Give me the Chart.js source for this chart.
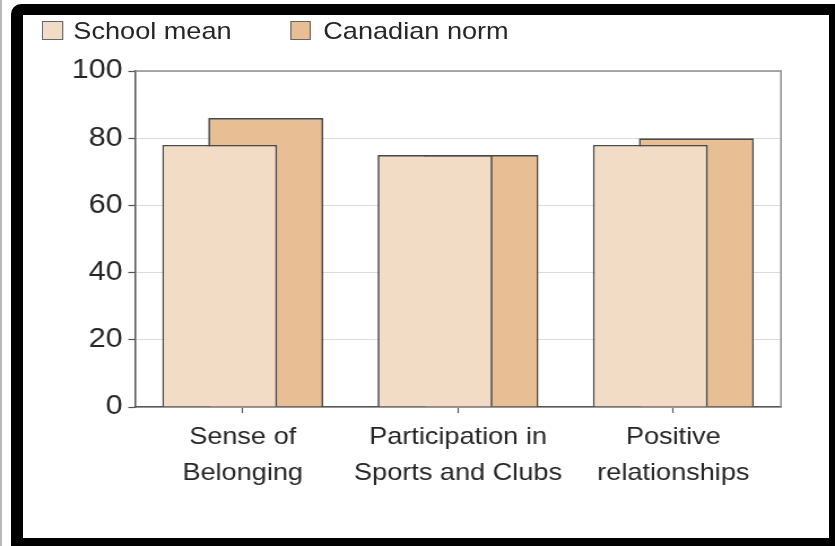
<!DOCTYPE html>
<html>
<head>
<meta charset="utf-8">
<script src="https://cdn.jsdelivr.net/npm/chart.js@4/dist/chart.umd.min.js"></script>
<style>
  html, body { margin: 0; padding: 0; background: #fff; }
  body { width: 835px; height: 546px; position: relative; overflow: hidden; }
  #edge { position: absolute; left: 0; top: 0; width: 2px; height: 546px; background: #b8b8b8; }
  #frame {
    position: absolute; left: 11px; top: 4px; width: 824px; height: 542px;
    box-sizing: border-box; border-style: solid; border-color: #000;
    border-width: 11px 6px 8px 12px; border-top-left-radius: 10px; background: #fff;
  }
  #stage {
    position: absolute; left: 0; top: 0; width: 739px; height: 546px;
    transform: scaleX(1.1299); transform-origin: 0 0;
  }
  #chart { position: absolute; left: 0; top: 0; }
  .lg-item { position: absolute; top: 18px; height: 26px;
    font-family: "Liberation Sans", Arial, sans-serif; font-size: 24px; color: #262626; white-space: nowrap; }
  .lg-box { position: absolute; top: 3px; width: 18.6px; height: 19px; box-sizing: border-box;
    border: 1.5px solid #666; }
  .lg-text { position: absolute; top: 0; line-height: 26px; }
</style>
</head>
<body>
<div id="edge"></div>
<div id="frame"></div>
<div id="stage">
  <canvas id="chart" width="739" height="546"></canvas>
  <div id="legend"></div>
</div>
<script>
// Survey results: school mean vs. Canadian norm
const categories = [['Sense of', 'Belonging'], ['Participation in', 'Sports and Clubs'], ['Positive', 'relationships']];
const schoolMean = [78, 75, 78];
const canadianNorm = [86, 75, 80];
const seriesNames = ['School mean', 'Canadian norm'];
const seriesColors = ['#f3dcc6', '#e8be94'];
const yMin = 0, yMax = 100, yStep = 20;

const FONT = '"Liberation Sans", Arial, sans-serif';
const TEXT = '#262626';

// grey frame along the top and right of the plot area
const plotFrame = {
  id: 'plotFrame',
  afterDraw(chart) {
    const { ctx, chartArea: a } = chart;
    ctx.save();
    ctx.strokeStyle = '#8f8f8f';
    ctx.lineWidth = 1.5;
    ctx.beginPath();
    ctx.moveTo(a.left, a.top);
    ctx.lineTo(a.right, a.top);
    ctx.lineTo(a.right, a.bottom);
    ctx.stroke();
    ctx.restore();
  }
};

const chart = new Chart(document.getElementById('chart'), {
  type: 'bar',
  data: {
    labels: categories,
    datasets: [
      { label: seriesNames[0], data: schoolMean, backgroundColor: seriesColors[0],
        borderColor: '#4a4a4a', borderWidth: 1.7 },
      { label: seriesNames[1], data: canadianNorm, backgroundColor: seriesColors[1],
        borderColor: '#4a4a4a', borderWidth: 1.7 }
    ]
  },
  options: {
    responsive: false,
    animation: false,
    events: [],
    categoryPercentage: 0.427,
    barPercentage: 2.5,
    layout: { padding: { left: 0, top: 71, right: 47.8, bottom: 39 } },
    plugins: { legend: { display: false }, tooltip: { enabled: false } },
    scales: {
      x: {
        afterFit(s) { s.height = 100; },
        grid: { drawOnChartArea: false, offset: false, tickLength: 6, tickColor: '#555', tickWidth: 1.2 },
        border: { color: '#555', width: 1.5 },
        ticks: { font: { family: FONT, size: 24, lineHeight: 1.5 }, color: TEXT, padding: 6, maxRotation: 0 }
      },
      y: {
        min: yMin, max: yMax,
        afterFit(s) { s.width = 119.5; },
        grid: { color: '#dcdcdc', lineWidth: 1, tickLength: 6, tickColor: '#555', tickWidth: 1.2 },
        border: { color: '#555', width: 1.5 },
        ticks: { stepSize: yStep, font: { family: FONT, size: 27 }, color: TEXT, padding: 5 }
      }
    }
  },
  plugins: [plotFrame]
});

// legend row above the plot
const legendPos = [{ box: 37.2, text: 64.9 }, { box: 256.6, text: 286.1 }];
const legendEl = document.getElementById('legend');
chart.data.datasets.forEach((ds, i) => {
  const item = document.createElement('div');
  item.className = 'lg-item';
  item.style.left = '0px';
  const box = document.createElement('span');
  box.className = 'lg-box';
  box.style.left = legendPos[i].box + 'px';
  box.style.background = ds.backgroundColor;
  const txt = document.createElement('span');
  txt.className = 'lg-text';
  txt.style.left = legendPos[i].text + 'px';
  txt.textContent = ds.label;
  item.appendChild(box);
  item.appendChild(txt);
  legendEl.appendChild(item);
});
</script>
</body>
</html>
